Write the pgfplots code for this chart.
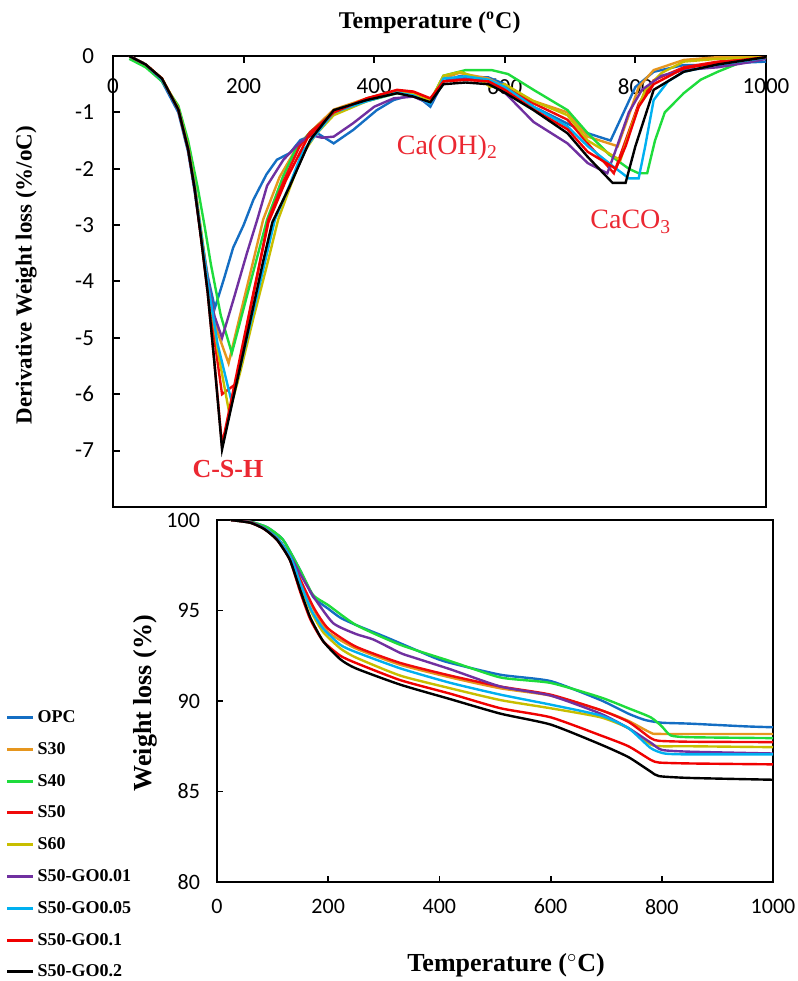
\documentclass[border=0pt]{standalone}
\usepackage{pgfplots}
\pgfplotsset{compat=1.18}
\usepackage{fontspec}
\setmainfont{Liberation Serif}
\newfontfamily\carlito{Carlito}

\definecolor{cOPC}{RGB}{20,110,195}
\definecolor{cS30}{RGB}{230,150,30}
\definecolor{cS40}{RGB}{30,220,60}
\definecolor{cS50}{RGB}{240,10,10}
\definecolor{cS60}{RGB}{200,190,0}
\definecolor{cGa}{RGB}{112,48,160}
\definecolor{cGb}{RGB}{0,176,240}
\definecolor{cGc}{RGB}{240,0,0}
\definecolor{annot}{RGB}{235,40,50}

\pgfplotsset{
  every axis plot/.append style={line width=1.2pt},
  tick label style={font=\carlito\fontsize{11.5}{12}\selectfont},
  /pgf/number format/assume math mode=true,
  /pgf/number format/1000 sep={},
}

\begin{document}
\begin{tikzpicture}
\useasboundingbox (0,0) rectangle (399pt,-490.5pt);

% ---- derivative curves (top)
\begin{axis}[
  at={(56.5pt,-28pt)}, anchor=north west,
  scale only axis, width=326.5pt, height=225.5pt,
  xmin=0, xmax=1000, ymin=-8, ymax=0,
  xtick={0,200,...,1000}, ytick={-7,-6,...,0},
  xtick pos=upper, ytick pos=left, xticklabel pos=upper,
  xticklabel style={anchor=north, yshift=-8pt},
  yticklabel style={xshift=-6pt},
  tick align=inside, major tick length=3.5pt,
  tick style={black, line width=1pt},
  axis line style={line width=1.4pt},
  xlabel={\bfseries\fontsize{12}{13}\selectfont Temperature (\textsuperscript{o}C)},
  xlabel style={at={(axis description cs:0.485,1)}, anchor=base, yshift=14pt},
  ylabel={\bfseries\fontsize{11.5}{12}\selectfont Derivative Weight loss (\%/oC)},
  ylabel style={at={(axis description cs:-0.133,0.514)}, anchor=center},
]
\addplot[cOPC] coordinates {(25,0) (50,-0.15) (75,-0.45) (100,-1.0) (115,-1.7) (125,-2.4) (135,-3.2) (145,-3.9) (156,-4.47) (170,-3.95) (184,-3.4) (200,-3.0) (215,-2.55) (235,-2.1) (251,-1.84) (271,-1.72) (287,-1.49) (313,-1.37) (338,-1.55) (368,-1.31) (404,-0.96) (430,-0.78) (455,-0.7) (470,-0.75) (486,-0.9) (506,-0.45) (530,-0.36) (575,-0.38) (600,-0.5) (644,-0.9) (696,-1.2) (727,-1.37) (762,-1.5) (780,-1.05) (800,-0.55) (828,-0.28) (874,-0.16) (926,-0.16) (960,-0.12) (1000,-0.1)};
\addplot[cS30] coordinates {(25,0) (50,-0.15) (75,-0.4) (100,-0.95) (115,-1.65) (125,-2.3) (135,-3.15) (145,-4.0) (160,-4.9) (177,-5.45) (195,-4.58) (212,-3.77) (230,-2.9) (255,-2.15) (280,-1.65) (302,-1.35) (338,-0.95) (389,-0.75) (435,-0.62) (460,-0.68) (486,-0.82) (506,-0.4) (530,-0.3) (575,-0.4) (600,-0.55) (644,-0.8) (696,-1.0) (727,-1.43) (773,-1.6) (790,-1.05) (805,-0.55) (828,-0.25) (874,-0.07) (926,-0.02) (1000,0)};
\addplot[cS40] coordinates {(25,-0.05) (50,-0.2) (75,-0.45) (100,-0.88) (115,-1.5) (130,-2.35) (140,-3.0) (150,-3.7) (165,-4.6) (182,-5.27) (200,-4.48) (218,-3.69) (236,-2.9) (260,-2.15) (280,-1.65) (302,-1.35) (338,-1.0) (389,-0.8) (435,-0.66) (460,-0.7) (486,-0.8) (506,-0.35) (540,-0.25) (580,-0.25) (605,-0.32) (644,-0.6) (696,-0.96) (727,-1.37) (760,-1.75) (790,-2.0) (805,-2.08) (818,-2.08) (830,-1.5) (845,-1.0) (874,-0.66) (900,-0.42) (926,-0.28) (960,-0.12) (1000,-0.03)};
\addplot[cS50] coordinates {(25,0) (50,-0.15) (75,-0.4) (100,-0.95) (115,-1.65) (125,-2.3) (135,-3.2) (145,-4.1) (155,-5.0) (167,-6.0) (190,-5.8) (205,-4.8) (220,-3.95) (238,-2.9) (262,-2.2) (285,-1.62) (302,-1.35) (338,-1.0) (389,-0.75) (435,-0.62) (460,-0.65) (486,-0.78) (506,-0.45) (540,-0.42) (575,-0.45) (600,-0.55) (644,-0.84) (696,-1.13) (727,-1.55) (767,-2.08) (785,-1.5) (805,-0.85) (828,-0.43) (874,-0.2) (926,-0.1) (1000,-0.02)};
\addplot[cS60] coordinates {(25,0) (50,-0.15) (75,-0.4) (100,-0.92) (115,-1.6) (125,-2.25) (135,-3.1) (145,-3.95) (160,-5.2) (178,-6.33) (195,-5.6) (215,-4.65) (235,-3.75) (253,-2.9) (272,-2.3) (290,-1.75) (310,-1.4) (338,-1.05) (389,-0.8) (435,-0.65) (460,-0.68) (486,-0.8) (506,-0.35) (532,-0.28) (560,-0.4) (578,-0.55) (600,-0.5) (644,-0.8) (696,-1.05) (727,-1.5) (777,-1.85) (795,-1.2) (815,-0.6) (840,-0.3) (874,-0.1) (926,-0.05) (1000,-0.02)};
\addplot[cGa] coordinates {(25,0) (50,-0.15) (75,-0.42) (100,-0.95) (115,-1.65) (125,-2.35) (135,-3.2) (145,-3.95) (155,-4.6) (167,-5.0) (185,-4.3) (205,-3.5) (221,-2.9) (236,-2.3) (261,-1.84) (285,-1.55) (302,-1.4) (320,-1.45) (338,-1.43) (368,-1.19) (400,-0.9) (430,-0.75) (460,-0.72) (486,-0.85) (506,-0.45) (540,-0.38) (575,-0.45) (600,-0.65) (644,-1.17) (696,-1.55) (727,-1.9) (757,-2.08) (772,-1.6) (790,-1.0) (810,-0.6) (840,-0.35) (874,-0.25) (926,-0.2) (970,-0.12) (1000,-0.05)};
\addplot[cGb] coordinates {(25,0) (50,-0.15) (75,-0.42) (100,-0.95) (115,-1.65) (125,-2.3) (135,-3.15) (145,-4.0) (160,-5.1) (182,-6.15) (200,-5.26) (220,-4.28) (248,-2.9) (270,-2.3) (290,-1.7) (310,-1.4) (338,-1.0) (389,-0.8) (435,-0.65) (460,-0.7) (486,-0.85) (506,-0.4) (540,-0.36) (575,-0.42) (600,-0.55) (644,-0.9) (696,-1.25) (727,-1.6) (765,-1.95) (790,-2.17) (805,-2.17) (815,-1.6) (828,-0.78) (850,-0.45) (874,-0.28) (926,-0.15) (1000,-0.03)};
\addplot[cGc] coordinates {(25,0) (50,-0.15) (75,-0.4) (100,-0.95) (115,-1.65) (125,-2.35) (135,-3.25) (145,-4.2) (155,-5.4) (167,-6.9) (180,-6.17) (195,-5.32) (215,-4.2) (238,-2.95) (265,-2.2) (298,-1.45) (338,-1.0) (389,-0.75) (435,-0.6) (460,-0.63) (486,-0.75) (506,-0.45) (540,-0.42) (575,-0.45) (600,-0.6) (644,-0.95) (696,-1.3) (727,-1.7) (770,-2.0) (785,-1.6) (805,-0.9) (828,-0.5) (874,-0.22) (926,-0.12) (1000,-0.02)};
\addplot[black] coordinates {(25,0) (50,-0.15) (75,-0.4) (100,-0.95) (115,-1.65) (125,-2.35) (135,-3.25) (145,-4.2) (155,-5.4) (167,-6.98) (180,-6.29) (195,-5.5) (215,-4.44) (230,-3.64) (244,-2.95) (271,-2.3) (302,-1.49) (338,-0.96) (389,-0.78) (435,-0.66) (460,-0.72) (486,-0.82) (506,-0.5) (540,-0.47) (575,-0.5) (600,-0.65) (644,-0.96) (696,-1.37) (727,-1.79) (765,-2.25) (785,-2.25) (800,-1.6) (828,-0.6) (874,-0.28) (926,-0.15) (1000,-0.02)};
\node[annot, font=\bfseries\fontsize{13}{14}\selectfont] at (axis cs:176,-7.32) {C-S-H};
\node[annot, font=\fontsize{14}{15}\selectfont] at (axis cs:512,-1.63) {Ca(OH)\textsubscript{2}};
\node[annot, font=\fontsize{14}{15}\selectfont] at (axis cs:793,-2.94) {CaCO\textsubscript{3}};
\end{axis}

% ---- weight loss curves (bottom)
\begin{axis}[
  at={(108.5pt,-260pt)}, anchor=north west,
  scale only axis, width=278pt, height=181pt,
  xmin=0, xmax=1000, ymin=80, ymax=100,
  xtick={0,200,...,1000}, ytick={80,85,...,100},
  xtick pos=lower, ytick pos=left,
  xticklabel style={yshift=-5pt},
  yticklabel style={xshift=-5pt},
  tick label style={font=\carlito\fontsize{11}{12}\selectfont},
  tick align=inside, major tick length=3pt,
  tick style={black, line width=0.9pt},
  axis line style={line width=1pt},
  every axis plot/.append style={smooth, tension=0.35},
  xlabel={\bfseries\fontsize{13}{14}\selectfont Temperature ($^\circ$C)},
  xlabel style={at={(axis description cs:0.52,-0.229)}, anchor=center},
  ylabel={\bfseries\fontsize{13}{14}\selectfont Weight loss (\%)},
  ylabel style={at={(axis description cs:-0.129,0.494)}, anchor=center},
  legend style={at={(axis description cs:-0.381,0.486)}, anchor=north west,
    draw=none, fill=none, inner sep=0pt, row sep=4.9pt,
    font=\bfseries\fontsize{9}{10}\selectfont,
    nodes={inner sep=1.5pt, text height=6.5pt, text depth=1.5pt}},
  legend cell align=left,
  legend image code/.code={\draw[#1, line width=1.5pt, sharp plot] (0pt,0pt) -- (13pt,0pt);},
]
\addplot[cOPC] coordinates {(25,100) (60,99.9) (90,99.6) (119,98.9) (150,97.2) (173,95.75) (200,95.1) (222,94.6) (250,94.2) (306,93.5) (390,92.4) (420,92.1) (510,91.45) (600,91.1) (690,90.05) (740,89.3) (770,88.95) (800,88.8) (850,88.75) (950,88.6) (1000,88.55)};
\addplot[cS30] coordinates {(25,100) (60,99.88) (85,99.55) (110,98.95) (133,97.9) (150,96.6) (175,95.0) (200,93.8) (250,92.9) (330,92.0) (420,91.3) (510,90.7) (600,90.3) (690,89.5) (740,88.9) (780,88.25) (800,88.18) (1000,88.18)};
\addplot[cS40] coordinates {(25,100) (60,99.9) (90,99.6) (119,98.9) (150,97.2) (173,95.85) (200,95.3) (250,94.2) (330,93.1) (420,92.2) (510,91.3) (600,91.0) (690,90.2) (740,89.6) (780,89.1) (800,88.6) (816,88.1) (850,88.0) (1000,87.95)};
\addplot[cS50] coordinates {(25,100) (60,99.88) (85,99.55) (110,98.95) (133,97.9) (150,96.7) (175,95.1) (200,94.0) (250,93.0) (330,92.1) (420,91.4) (510,90.8) (600,90.35) (690,89.5) (740,88.85) (780,87.95) (795,87.8) (850,87.75) (1000,87.73)};
\addplot[cS60] coordinates {(25,100) (60,99.85) (85,99.55) (110,98.95) (133,97.9) (150,96.4) (170,94.9) (191,93.8) (222,92.9) (250,92.4) (330,91.4) (420,90.7) (510,90.05) (600,89.6) (690,89.1) (740,88.5) (780,87.6) (800,87.5) (850,87.5) (1000,87.45)};
\addplot[cGa] coordinates {(25,100) (60,99.88) (85,99.55) (110,98.95) (133,97.95) (150,97.0) (175,95.7) (209,94.3) (250,93.7) (281,93.4) (330,92.65) (354,92.4) (420,91.75) (510,90.8) (600,90.3) (690,89.3) (740,88.5) (780,87.7) (800,87.3) (850,87.2) (1000,87.1)};
\addplot[cGb] coordinates {(25,100) (60,99.85) (85,99.55) (110,98.95) (133,97.9) (150,96.5) (170,95.0) (191,94.0) (222,93.1) (250,92.7) (330,91.8) (420,91.0) (510,90.35) (600,89.8) (690,89.2) (740,88.5) (780,87.4) (805,87.1) (850,87.05) (1000,87.05)};
\addplot[cGc] coordinates {(25,100) (60,99.85) (85,99.5) (108,98.9) (131,97.8) (150,96.0) (168,94.5) (191,93.3) (222,92.5) (250,92.1) (330,91.15) (420,90.4) (510,89.6) (600,89.1) (690,88.1) (740,87.5) (780,86.75) (795,86.6) (850,86.55) (1000,86.5)};
\addplot[black] coordinates {(25,100) (60,99.85) (85,99.5) (108,98.9) (131,97.8) (150,96.1) (168,94.6) (191,93.3) (222,92.3) (250,91.8) (330,90.9) (420,90.1) (510,89.3) (600,88.7) (690,87.6) (740,86.9) (780,86.1) (795,85.85) (850,85.75) (1000,85.65)};
\legend{OPC,S30,S40,S50,S60,S50-GO0.01,S50-GO0.05,S50-GO0.1,S50-GO0.2}
\end{axis}
\end{tikzpicture}
\end{document}
